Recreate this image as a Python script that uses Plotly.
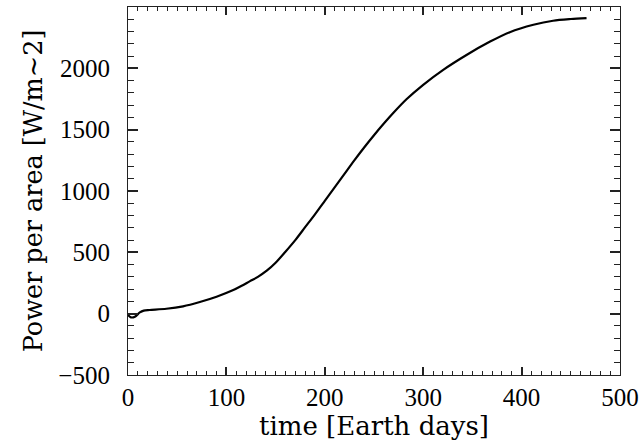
import plotly.graph_objects as go

time_days = [0, 3, 7, 12, 16, 22, 39, 56, 73, 90, 107, 115, 124, 132, 141, 150, 160, 170, 180, 190, 200, 210,
             220, 230, 240, 250, 260, 270, 283, 300, 320, 344, 368, 388, 412, 432, 450, 466]
power = [-10, -30, -25, 10, 25, 30, 40, 60, 95, 138, 192, 225, 265, 300, 350, 415, 505, 600, 705, 810, 920, 1030,
         1140, 1250, 1355, 1455, 1550, 1640, 1748, 1866, 1986, 2109, 2218, 2295, 2355, 2388, 2402, 2410]

x_tick_start, x_tick_step = 0, 100
y_tick_start, y_tick_step = -500, 500

fig = go.Figure()
fig.add_trace(go.Scatter(x=time_days, y=power, mode="lines",
                         line=dict(color="black", width=2.2, shape="spline", smoothing=0.8),
                         showlegend=False))

tickfont = dict(family="Liberation Serif", size=25, color="black")
axis_color = "#222222"

fig.update_layout(
    width=643, height=447,
    margin=dict(l=128, r=23, t=7, b=72),
    paper_bgcolor="white", plot_bgcolor="white",
    xaxis=dict(range=[0, 500], tickmode="linear", tick0=x_tick_start, dtick=x_tick_step,
               ticks="inside", ticklen=8, tickwidth=1.5, layer="above traces",
               tickcolor=axis_color, showline=True, linecolor=axis_color, linewidth=1.2, mirror="allticks",
               showgrid=False, zeroline=False, tickfont=tickfont, automargin=False,
               minor=dict(dtick=10, ticks="inside", ticklen=4, tickwidth=1.2, tickcolor=axis_color, showgrid=False),
               title=dict(text="time [Earth days]", font=dict(family="DejaVu Serif", size=26, color="black"),
                          standoff=5)),
    yaxis=dict(range=[-500, 2500], tickmode="linear", tick0=y_tick_start, dtick=y_tick_step,
               ticks="inside", ticklen=10, tickwidth=1.5, layer="above traces",
               tickcolor=axis_color, showline=True, linecolor=axis_color, linewidth=1.2, mirror="allticks",
               showgrid=False, zeroline=False, tickfont=tickfont, ticklabelstandoff=12, automargin=False,
               minor=dict(dtick=100, ticks="inside", ticklen=6, tickwidth=1.2, tickcolor=axis_color, showgrid=False),
               title=dict(text="Power per area [W/m~2]", font=dict(family="DejaVu Serif", size=25.5, color="black"),
                          standoff=8)),
)

fig.write_html("out.html", post_script="document.body.style.margin='0';",
               config={"displayModeBar": False})
